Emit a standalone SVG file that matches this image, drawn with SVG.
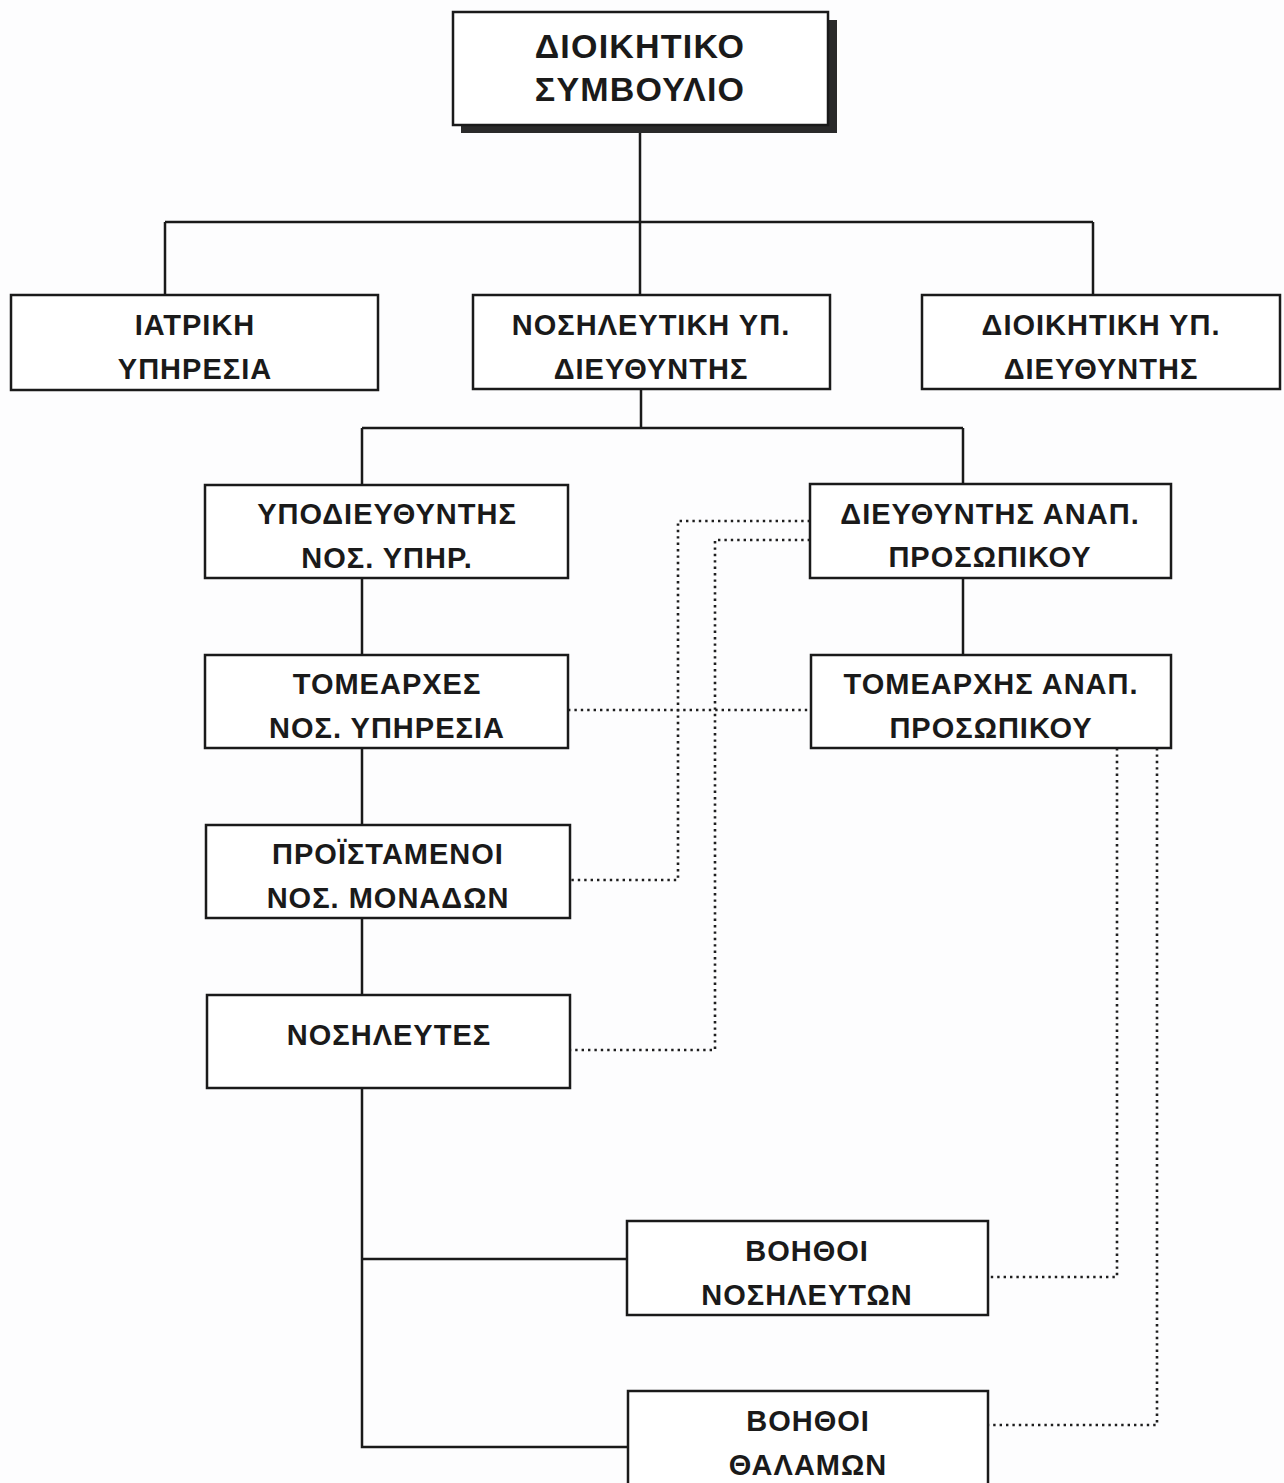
<svg xmlns="http://www.w3.org/2000/svg" width="1284" height="1483" viewBox="0 0 1284 1483">
<style>
.box{fill:#fff;stroke:#1a1a1a;stroke-width:2.5}
.shadow{fill:#2a2a2a}
.t{font-family:"Liberation Sans",Arial,sans-serif;font-weight:bold;font-size:29px;fill:#1a1a1a;text-anchor:middle;letter-spacing:1px}
.tb{font-size:34px;letter-spacing:1.2px}
.ln{fill:none;stroke:#1a1a1a;stroke-width:2.5}
.dot{fill:none;stroke:#1e1e1e;stroke-width:2.6;stroke-dasharray:2.4 4}
</style>
<rect width="1284" height="1483" fill="#fdfdfe"/>
<g id="connectors">
<path class="ln" d="M640 125V222M165 222H1093M165 222V295M640 222V295M1093 222V295"/>
<path class="ln" d="M641 390V428M362 428H963M362 428V485M963 428V485"/>
<path class="ln" d="M362 578V655M362 748V825M362 918V995M362 1088V1447H628M362 1259H627"/>
<path class="ln" d="M963 578V655"/>
<path class="dot" d="M810 521H678V880H570"/>
<path class="dot" d="M810 540H715V1050H570"/>
<path class="dot" d="M568 710H811"/>
<path class="dot" d="M1117 748V1277H988"/>
<path class="dot" d="M1157 748V1425H988"/>
</g>
<g id="n-dioikitiko-symvoulio">
<rect class="shadow" x="461" y="20" width="376" height="113"/>
<rect class="box" x="453" y="12" width="375" height="113"/>
<text class="t tb" x="640" y="58">ΔΙΟΙΚΗΤΙΚΟ</text>
<text class="t tb" x="640" y="101">ΣΥΜΒΟΥΛΙΟ</text>
</g>
<g id="n-iatriki">
<rect class="box" x="11" y="295" width="367" height="95"/>
<text class="t" x="195" y="335">ΙΑΤΡΙΚΗ</text>
<text class="t" x="195" y="379">ΥΠΗΡΕΣΙΑ</text>
</g>
<g id="n-nosileutiki">
<rect class="box" x="473" y="295" width="357" height="94"/>
<text class="t" x="651" y="335">ΝΟΣΗΛΕΥΤΙΚΗ ΥΠ.</text>
<text class="t" x="651" y="379">ΔΙΕΥΘΥΝΤΗΣ</text>
</g>
<g id="n-dioikitiki">
<rect class="box" x="922" y="295" width="358" height="94"/>
<text class="t" x="1101" y="335">ΔΙΟΙΚΗΤΙΚΗ ΥΠ.</text>
<text class="t" x="1101" y="379">ΔΙΕΥΘΥΝΤΗΣ</text>
</g>
<g id="n-ypodieuthyntis">
<rect class="box" x="205" y="485" width="363" height="93"/>
<text class="t" x="387" y="524">ΥΠΟΔΙΕΥΘΥΝΤΗΣ</text>
<text class="t" x="387" y="568">ΝΟΣ. ΥΠΗΡ.</text>
</g>
<g id="n-dieuthyntis-anap">
<rect class="box" x="810" y="484" width="361" height="94"/>
<text class="t" x="990" y="524">ΔΙΕΥΘΥΝΤΗΣ ΑΝΑΠ.</text>
<text class="t" x="990" y="567">ΠΡΟΣΩΠΙΚΟΥ</text>
</g>
<g id="n-tomearxes">
<rect class="box" x="205" y="655" width="363" height="93"/>
<text class="t" x="387" y="694">ΤΟΜΕΑΡΧΕΣ</text>
<text class="t" x="387" y="738">ΝΟΣ. ΥΠΗΡΕΣΙΑ</text>
</g>
<g id="n-tomearxis-anap">
<rect class="box" x="811" y="655" width="360" height="93"/>
<text class="t" x="991" y="694">ΤΟΜΕΑΡΧΗΣ ΑΝΑΠ.</text>
<text class="t" x="991" y="738">ΠΡΟΣΩΠΙΚΟΥ</text>
</g>
<g id="n-proistamenoi">
<rect class="box" x="206" y="825" width="364" height="93"/>
<text class="t" x="388" y="864">ΠΡΟΪΣΤΑΜΕΝΟΙ</text>
<text class="t" x="388" y="908">ΝΟΣ. ΜΟΝΑΔΩΝ</text>
</g>
<g id="n-nosileutes">
<rect class="box" x="207" y="995" width="363" height="93"/>
<text class="t" x="389" y="1045">ΝΟΣΗΛΕΥΤΕΣ</text>
</g>
<g id="n-voithoi-nosileuton">
<rect class="box" x="627" y="1221" width="361" height="94"/>
<text class="t" x="807" y="1261">ΒΟΗΘΟΙ</text>
<text class="t" x="807" y="1305">ΝΟΣΗΛΕΥΤΩΝ</text>
</g>
<g id="n-voithoi-thalamon">
<rect class="box" x="628" y="1391" width="360" height="100"/>
<text class="t" x="808" y="1431">ΒΟΗΘΟΙ</text>
<text class="t" x="808" y="1475">ΘΑΛΑΜΩΝ</text>
</g>
</svg>
